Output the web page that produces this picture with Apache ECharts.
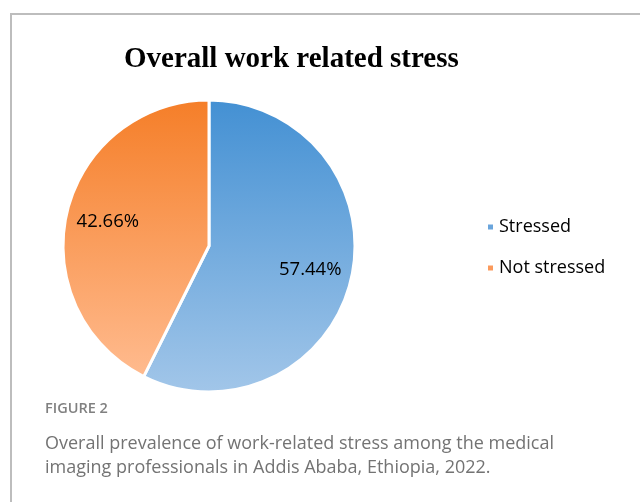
<!DOCTYPE html>
<html><head><meta charset="utf-8">
<script src="https://cdn.jsdelivr.net/npm/echarts@6/dist/echarts.min.js"></script>
<style>html,body{margin:0;padding:0;background:#fff}#c{width:640px;height:502px}</style>
</head><body><div id="c"></div>
<script>
var categories = ['Stressed', 'Not stressed'];
var values = [57.44, 42.66];
var labels = ['57.44%', '42.66%'];
var chartTitle = 'Overall work related stress';
var figLabel = 'FIGURE 2';
var captionLines = ['Overall prevalence of work-related stress among the medical', 'imaging professionals in Addis Ababa, Ethiopia, 2022.'];

var grads = [
  new echarts.graphic.LinearGradient(0,0,0,1,[{offset:0,color:'#4390d3'},{offset:1,color:'#a2c6e9'}]),
  new echarts.graphic.LinearGradient(0,0,0,1,[{offset:0,color:'#f57e28'},{offset:1,color:'#ffbb8f'}])
];
var legendColors = ['#6aa5dc','#fb9a5c'];

var chart = echarts.init(document.getElementById('c'), null, {renderer:'canvas'});
chart.setOption({
  animation:false,
  title:{text:chartTitle,left:124,top:45,padding:0,
    textStyle:{fontFamily:'Liberation Serif',fontWeight:'bold',fontSize:29,color:'#000'}},
  legend:{orient:'vertical',left:481,top:213,itemWidth:7,itemHeight:7,itemGap:23,icon:'rect',
    textStyle:{fontFamily:'Open Sans',fontSize:18,color:'#000',padding:[0,0,0,0]},
    data:categories.map(function(c,i){return {name:c,itemStyle:{color:legendColors[i]}};})},
  graphic:[
    {type:'polyline',shape:{points:[[11,502],[11,14],[640,14]]},style:{stroke:'#bdbdbd',lineWidth:2,fill:null}},
    {type:'text',left:45,top:401,style:{text:figLabel,fontFamily:'Open Sans',fontWeight:600,fontSize:14.5,fill:'#808080'}},
    {type:'text',left:45,top:435,style:{text:captionLines[0],fontFamily:'Open Sans',fontSize:18,fill:'#737373'}},
    {type:'text',left:45,top:459,style:{text:captionLines[1],fontFamily:'Open Sans',fontSize:18,fill:'#737373'}}
  ],
  series:[
    {type:'pie',center:[209,246],radius:['0%',146],startAngle:90,clockwise:true,silent:true,
     label:{show:false},labelLine:{show:false},
     itemStyle:{borderColor:'#fff',borderWidth:3},
     data:categories.map(function(c,i){return {name:c,value:values[i],itemStyle:{color:grads[i]}};})},
    {type:'pie',center:[209,246],radius:['0%',202],startAngle:90,clockwise:true,silent:true,
     legendHoverLink:false,
     itemStyle:{color:'rgba(0,0,0,0)'},labelLine:{show:false},
     label:{show:true,position:'inside',fontFamily:'Open Sans',fontSize:18.5,color:'#000',
       formatter:function(p){return labels[p.dataIndex];}},
     data:categories.map(function(c,i){return {name:c+' ',value:values[i]};})}
  ]
});
</script></body></html>
